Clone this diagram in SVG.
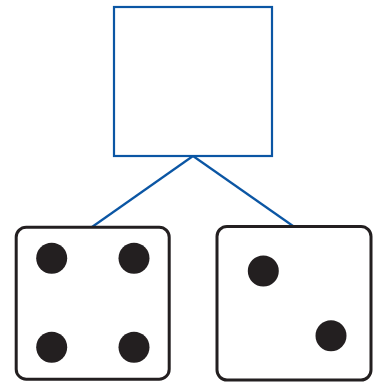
<svg xmlns="http://www.w3.org/2000/svg" width="382" height="383" viewBox="0 0 382 383">
<style>
.sq{fill:#fff;stroke:#0b56a4;stroke-width:2.2}
.conn{stroke:#0b56a4;stroke-width:2.2;fill:none}
.die{fill:#fff;stroke:#231f20;stroke-width:3;}
.pip{fill:#231f20}
</style>
<rect width="382" height="383" fill="#fff"/>
<g id="connectors">
<line class="conn" x1="193" y1="156" x2="92" y2="227"/>
<line class="conn" x1="193" y1="156" x2="293" y2="226"/>
</g>
<g id="top">
<rect class="sq" x="114" y="7" width="158" height="149"/>
</g>
<g id="die4">
<rect class="die" x="16.2" y="227.2" width="153" height="152" rx="10"/>
<circle class="pip" cx="51.7" cy="258.3" r="15.5"/>
<circle class="pip" cx="134" cy="258.3" r="15.5"/>
<circle class="pip" cx="51.7" cy="347.3" r="15.5"/>
<circle class="pip" cx="134" cy="347.3" r="15.5"/>
</g>
<g id="die2">
<rect class="die" x="217" y="226.5" width="154" height="153.5" rx="10"/>
<circle class="pip" cx="263.3" cy="271" r="15.5"/>
<circle class="pip" cx="331" cy="335.7" r="15.5"/>
</g>
</svg>
